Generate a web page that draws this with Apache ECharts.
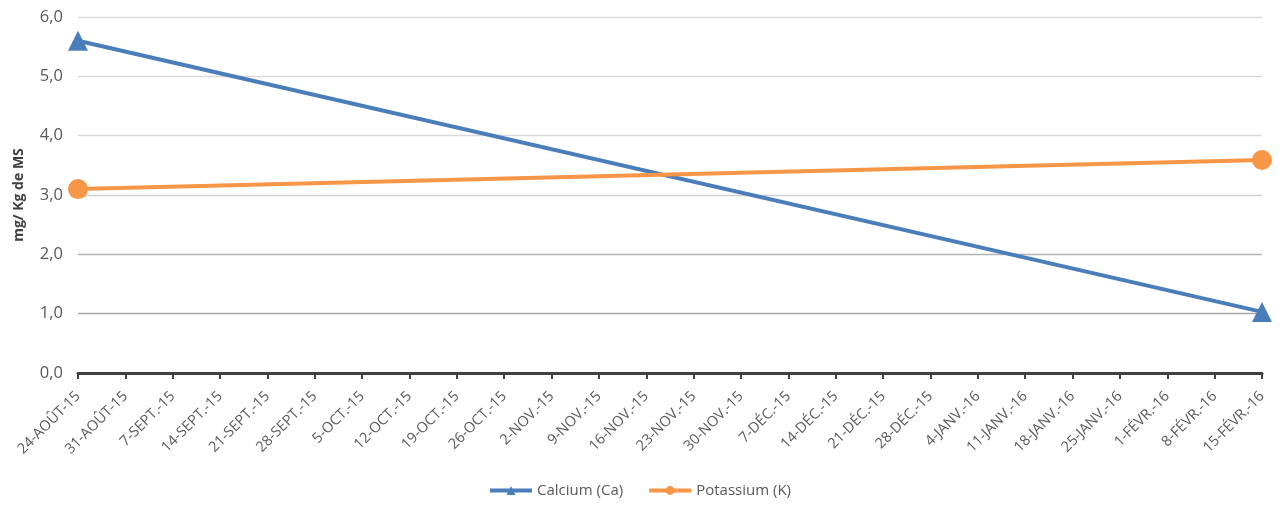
<!DOCTYPE html>
<html><head><meta charset="utf-8">
<script src="https://cdn.jsdelivr.net/npm/echarts@6/dist/echarts.min.js"></script>
<style>html,body{margin:0;padding:0;background:#fff}#c{width:1279px;height:506px}</style>
</head><body><div id="c"></div>
<script>
var categories = ['24-AOÛT-15','31-AOÛT-15','7-SEPT.-15','14-SEPT.-15','21-SEPT.-15','28-SEPT.-15','5-OCT.-15','12-OCT.-15','19-OCT.-15','26-OCT.-15','2-NOV.-15','9-NOV.-15','16-NOV.-15','23-NOV.-15','30-NOV.-15','7-DÉC.-15','14-DÉC.-15','21-DÉC.-15','28-DÉC.-15','4-JANV.-16','11-JANV.-16','18-JANV.-16','25-JANV.-16','1-FÉVR.-16','8-FÉVR.-16','15-FÉVR.-16'];
var calciumPoints = [['24-AOÛT-15', 5.6], ['15-FÉVR.-16', 1.03]];
var potassiumPoints = [['24-AOÛT-15', 3.1], ['15-FÉVR.-16', 3.59]];
var seriesNames = ['Calcium (Ca)', 'Potassium (K)'];
var yTicks = [0, 1, 2, 3, 4, 5, 6];

var chart = echarts.init(document.getElementById('c'));
var font = '"Open Sans", "Liberation Sans", Arial, sans-serif';
chart.setOption({
  animation: false,
  grid: {left: 78, right: 17, top: 17, bottom: 133},
  xAxis: {
    type: 'category', data: categories, boundaryGap: false,
    axisLine: {lineStyle: {color: '#404040', width: 3}},
    axisTick: {show: true, alignWithLabel: true, length: 6, lineStyle: {color: '#404040', width: 2}},
    axisLabel: {rotate: 45, interval: 0, color: '#595959', fontSize: 14.5, fontFamily: font, margin: 21},
    splitLine: {show: false}
  },
  yAxis: {
    type: 'value', min: yTicks[0], max: yTicks[yTicks.length - 1], interval: 1,
    name: 'mg/ Kg de MS', nameLocation: 'middle', nameGap: 52, nameRotate: 90,
    nameTextStyle: {fontWeight: 'bold', fontSize: 14, color: '#404040', fontFamily: font},
    axisLine: {show: false}, axisTick: {show: false},
    axisLabel: {color: '#595959', fontSize: 16.5, fontFamily: font, margin: 15,
      formatter: function (v) { return v.toFixed(1).replace('.', ','); }},
    splitLine: {lineStyle: {color: ['#bfbfbf', '#a6a6a6', '#b3b3b3', '#d0d0d0', '#d9d9d9', '#d9d9d9', '#d9d9d9'], width: 1.3}}
  },
  legend: {
    bottom: 3, left: 'center', itemWidth: 42, itemHeight: 11, itemGap: 24,
    lineStyle: {width: 4},
    textStyle: {color: '#595959', fontSize: 15, fontFamily: font},
    data: seriesNames
  },
  series: [
    {name: seriesNames[0], type: 'line', data: calciumPoints, symbol: 'triangle', symbolSize: 20,
     lineStyle: {color: '#4a7ebb', width: 4}, itemStyle: {color: '#4a7ebb'}, connectNulls: true},
    {name: seriesNames[1], type: 'line', data: potassiumPoints, symbol: 'circle', symbolSize: 20,
     lineStyle: {color: '#f79646', width: 4}, itemStyle: {color: '#f79646'}, connectNulls: true}
  ]
});
</script></body></html>
